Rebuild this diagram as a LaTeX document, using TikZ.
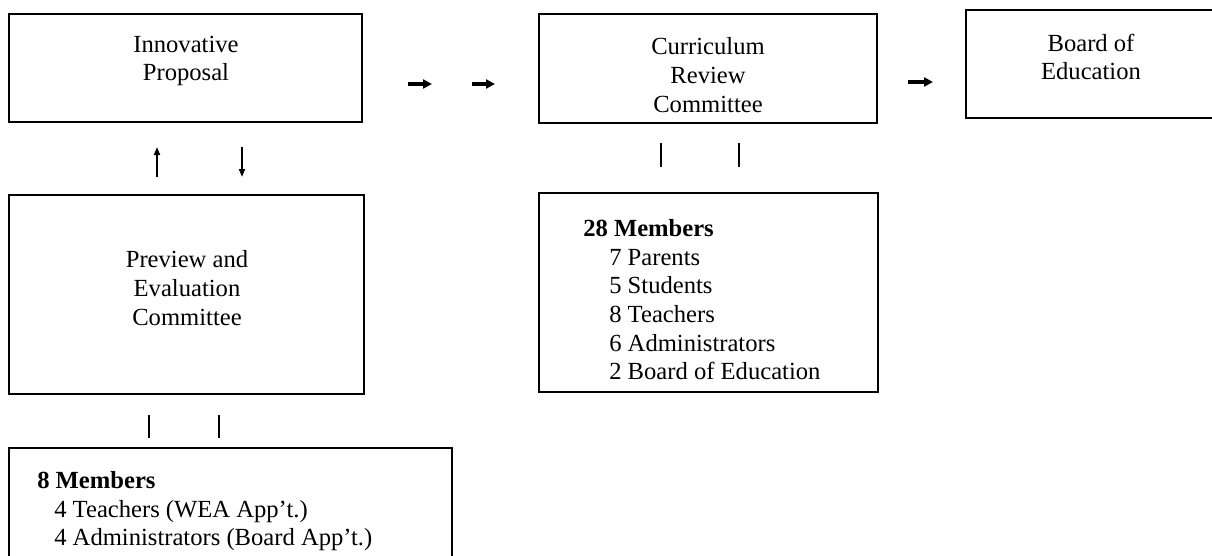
\documentclass[tikz,border=0pt]{standalone}
\usepackage{fontspec}
\setmainfont{Liberation Serif}
\usetikzlibrary{arrows.meta}
\newlength{\pxu}
\setlength{\pxu}{0.025cm}

\begin{document}
\begin{tikzpicture}[x=0.025cm, y=-0.025cm]
\tikzset{boite/.style={draw, line width=1.6pt, inner sep=0pt},
  texte/.style={align=center, inner sep=0pt, font=\fontsize{17.5}{20.4}\selectfont},
  liste/.style={align=left, anchor=north west, inner sep=0pt, font=\fontsize{17.5}{20.4}\selectfont},
  fleche/.style={line width=2.6pt, -{Triangle[length=0.225cm, width=0.225cm]}},
  finefleche/.style={line width=1.3pt, -{Triangle[length=0.2cm, width=0.15cm]}},
  barre/.style={line width=1.4pt}}
\useasboundingbox (0,0) rectangle (1212,555);
\clip (0,0) rectangle (1212,555);
\node[boite, minimum width=353\pxu, minimum height=108\pxu] (B1) at (185.5,68) {};
\node[boite, minimum width=338\pxu, minimum height=109\pxu] (B2) at (708,68.5) {};
\node[boite, minimum width=252\pxu, minimum height=108\pxu] (B3) at (1092,64) {};
\node[boite, minimum width=355\pxu, minimum height=199\pxu] (B4) at (186.5,294.5) {};
\node[boite, minimum width=339\pxu, minimum height=199\pxu] (B5) at (708.5,292.5) {};
\node[boite, minimum width=443\pxu, minimum height=130\pxu] (B6) at (230.5,513) {};
\node[texte] (T1) at (186,61) {Innovative\\Proposal};
\node[texte] (T2) at (708,75) {Curriculum\\Review\\Committee};
\node[texte] (T3) at (1091,57) {Board of\\Education};
\node[texte] (T4) at (187,288) {Preview and\\Evaluation\\Committee};
\node[liste] (T5) at (583,219) {\textbf{28 Members}\\
  \hspace*{26\pxu}7 Parents\\
  \hspace*{26\pxu}5 Students\\
  \hspace*{26\pxu}8 Teachers\\
  \hspace*{26\pxu}6 Administrators\\
  \hspace*{26\pxu}2 Board of Education};
\node[liste] (T6) at (37,471) {\textbf{8 Members}\\
  \hspace*{17\pxu}4 Teachers (WEA App't.)\\
  \hspace*{17\pxu}4 Administrators (Board App't.)};
\coordinate (A1) at (408,84);
\coordinate (A2) at (432,84);
\coordinate (A3) at (472,84);
\coordinate (A4) at (495,84);
\coordinate (A5) at (908,82);
\coordinate (A6) at (933,82);
\coordinate (U1) at (157,177);
\coordinate (U2) at (157,147);
\coordinate (D1) at (242,147);
\coordinate (D2) at (242,177);
\coordinate (L1) at (149,415);
\coordinate (L2) at (149,438);
\coordinate (L3) at (219,415);
\coordinate (L4) at (219,438);
\coordinate (R1) at (661,143);
\coordinate (R2) at (661,167);
\coordinate (R3) at (739,143);
\coordinate (R4) at (739,167);
\draw[fleche] (A1) -- (A2);
\draw[fleche] (A3) -- (A4);
\draw[fleche] (A5) -- (A6);
\draw[finefleche] (U1) -- (U2);
\draw[finefleche] (D1) -- (D2);
\draw[barre] (L1) -- (L2);
\draw[barre] (L3) -- (L4);
\draw[barre] (R1) -- (R2);
\draw[barre] (R3) -- (R4);
\end{tikzpicture}
\end{document}
